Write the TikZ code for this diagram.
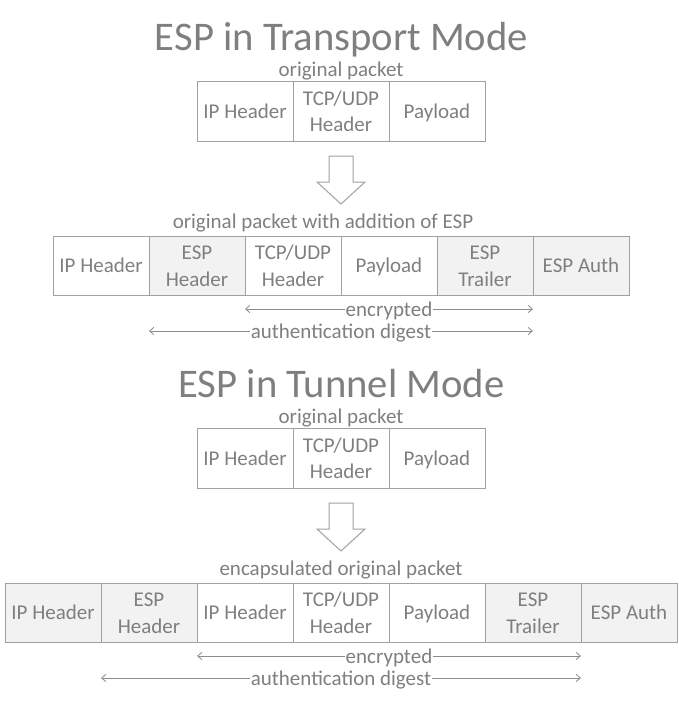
\documentclass[tikz,border=0pt]{standalone}
\usepackage{fontspec}
\setmainfont{Carlito}
\usetikzlibrary{arrows.meta}
\definecolor{textgray}{HTML}{7F7F7F}
\definecolor{linegray}{HTML}{A0A0A0}
\definecolor{arrowgray}{HTML}{8C8C8C}
\definecolor{espfill}{HTML}{F2F2F2}
\newcommand\cstr{\rule[-4.8pt]{0pt}{20pt}}
\newcommand\cellfont{\fontsize{15.75}{20}\selectfont}
\tikzset{
  cell/.style={draw=linegray, line width=0.75pt, minimum width=72pt, minimum height=44.6pt,
    inner sep=0pt, align=center, font=\cellfont, text=textgray},
  espcell/.style={cell, fill=espfill},
  caption/.style={anchor=base, inner sep=0pt, font=\cellfont, text=textgray},
  headline/.style={anchor=base, inner sep=0pt, font=\fontsize{30.5}{36}\selectfont, text=textgray},
  span/.style={draw=arrowgray, line width=0.6pt, {Straight Barb[length=3.2pt,width=5.4pt]}-{Straight Barb[length=3.2pt,width=5.4pt]}},
  spanlabel/.style={anchor=base, fill=white, inner xsep=0.8pt, inner ysep=0pt, font=\cellfont, text=textgray},
  blockarrow/.style={draw=linegray, line width=0.75pt, fill=white, line join=miter},
}
\begin{document}
\begin{tikzpicture}[x=0.75pt, y=-0.75pt]
\useasboundingbox (0,0) rectangle (679,701);

% ---------- Transport mode ----------
\node[headline] (t1) at (341.5,50) {ESP in Transport Mode};
\node[caption] (c1) at (341,76) {original packet};
\node[cell] (a1) at (245,111.5) {\cstr IP Header};
\node[cell] (a2) at (341,111.5) {\cstr TCP/UDP\\\cstr Header};
\node[cell] (a3) at (437,111.5) {\cstr Payload};

\coordinate (ar1) at (341,156);
\draw[blockarrow] (329,156) -- (353,156) -- (353,182) -- (365,182) -- (341,204) -- (317,182) -- (329,182) -- cycle;

\node[caption] (c2) at (323,228) {original packet with addition of ESP};
\node[cell] (b1) at (101,266) {\cstr IP Header};
\node[espcell] (b2) at (197,266) {\cstr ESP\\\cstr Header};
\node[cell] (b3) at (293,266) {\cstr TCP/UDP\\\cstr Header};
\node[cell] (b4) at (389,266) {\cstr Payload};
\node[espcell] (b5) at (485,266) {\cstr ESP\\\cstr Trailer};
\node[espcell] (b6) at (581,266) {\cstr ESP Auth};

\coordinate (e1l) at (245,309);
\coordinate (e1r) at (533,309);
\draw[span] (e1l) -- (e1r);
\node[spanlabel] (e1) at (389,316) {encrypted};
\coordinate (d1l) at (149,331);
\coordinate (d1r) at (533,331);
\draw[span] (d1l) -- (d1r);
\node[spanlabel] (d1) at (341,338) {authentication digest};

% ---------- Tunnel mode ----------
\node[headline] (t2) at (341.5,397) {ESP in Tunnel Mode};
\node[caption] (c3) at (341,423) {original packet};
\node[cell] (f1) at (245,458.5) {\cstr IP Header};
\node[cell] (f2) at (341,458.5) {\cstr TCP/UDP\\\cstr Header};
\node[cell] (f3) at (437,458.5) {\cstr Payload};

\draw[blockarrow] (329,503) -- (353,503) -- (353,529) -- (365,529) -- (341,551) -- (317,529) -- (329,529) -- cycle;

\node[caption] (c4) at (341,575) {encapsulated original packet};
\node[espcell] (g1) at (53,613) {\cstr IP Header};
\node[espcell] (g2) at (149,613) {\cstr ESP\\\cstr Header};
\node[cell] (g3) at (245,613) {\cstr IP Header};
\node[cell] (g4) at (341,613) {\cstr TCP/UDP\\\cstr Header};
\node[cell] (g5) at (437,613) {\cstr Payload};
\node[espcell] (g6) at (533,613) {\cstr ESP\\\cstr Trailer};
\node[espcell] (g7) at (629,613) {\cstr ESP Auth};

\coordinate (e2l) at (197,656);
\coordinate (e2r) at (581,656);
\draw[span] (e2l) -- (e2r);
\node[spanlabel] (e2) at (389,663) {encrypted};
\coordinate (d2l) at (101,678);
\coordinate (d2r) at (581,678);
\draw[span] (d2l) -- (d2r);
\node[spanlabel] (d2) at (341,685) {authentication digest};
\end{tikzpicture}
\end{document}
